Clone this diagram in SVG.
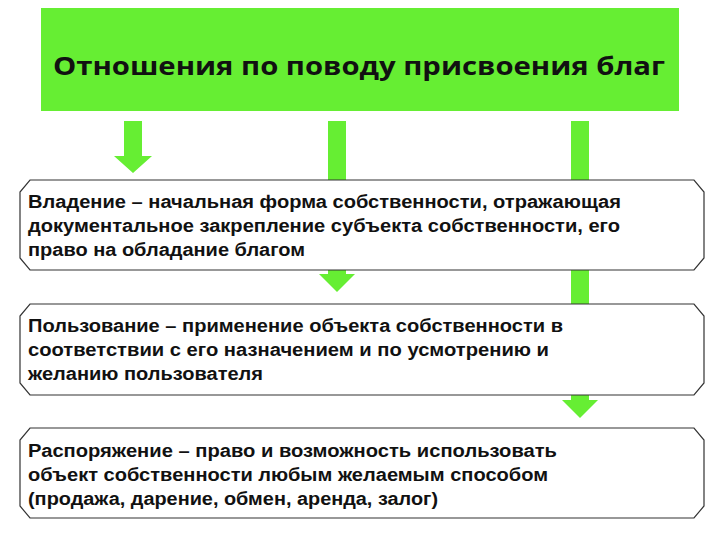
<svg xmlns="http://www.w3.org/2000/svg" width="720" height="540" viewBox="0 0 720 540">
<style>
.ar{fill:#66ee33}
.bx{fill:#fff;stroke:#333;stroke-width:1.2}
.t{font-family:"Liberation Sans",Arial,sans-serif;font-weight:bold;font-size:18px;fill:#111}
</style>
<rect width="720" height="540" fill="#fff"/>
<g id="header">
<rect x="41" y="8" width="638" height="103" fill="#66ee33"/>
<text x="53" y="75" textLength="612" lengthAdjust="spacingAndGlyphs" font-family="'Open Sans','Liberation Sans',sans-serif" font-weight="bold" font-size="25" fill="#111">Отношения по поводу присвоения благ</text>
</g>
<g id="connectors">
<polygon class="ar" points="124,121 142,121 142,156 152,156 133,173 114,156 124,156"/>
<polygon class="ar" points="328,121 346,121 346,274 355,274 337,292 319,274 328,274"/>
<polygon class="ar" points="571,121 589,121 589,400 598,400 580,418 562,400 571,400"/>
</g>
<g id="box1">
<polygon class="bx" points="30,180 694,180 704,192 704,258 694,270 30,270 20,258 20,192"/>
<text class="t" x="28" y="208" textLength="593" lengthAdjust="spacingAndGlyphs">Владение – начальная форма собственности, отражающая</text>
<text class="t" x="28" y="232" textLength="592" lengthAdjust="spacingAndGlyphs">документальное закрепление субъекта собственности, его</text>
<text class="t" x="28" y="256" textLength="277" lengthAdjust="spacingAndGlyphs">право на обладание благом</text>
</g>
<g id="box2">
<polygon class="bx" points="30,304 694,304 704,316 704,383 694,395 30,395 20,383 20,316"/>
<text class="t" x="28" y="332" textLength="535" lengthAdjust="spacingAndGlyphs">Пользование – применение объекта собственности в</text>
<text class="t" x="28" y="356" textLength="521" lengthAdjust="spacingAndGlyphs">соответствии с его назначением и по усмотрению и</text>
<text class="t" x="28" y="380" textLength="235" lengthAdjust="spacingAndGlyphs">желанию пользователя</text>
</g>
<g id="box3">
<polygon class="bx" points="30,428 694,428 704,440 704,506 694,518 30,518 20,506 20,440"/>
<text class="t" x="28" y="457" textLength="529" lengthAdjust="spacingAndGlyphs">Распоряжение – право и возможность использовать</text>
<text class="t" x="28" y="481" textLength="520" lengthAdjust="spacingAndGlyphs">объект собственности любым желаемым способом</text>
<text class="t" x="28" y="505" textLength="410" lengthAdjust="spacingAndGlyphs">(продажа, дарение, обмен, аренда, залог)</text>
</g>
</svg>
